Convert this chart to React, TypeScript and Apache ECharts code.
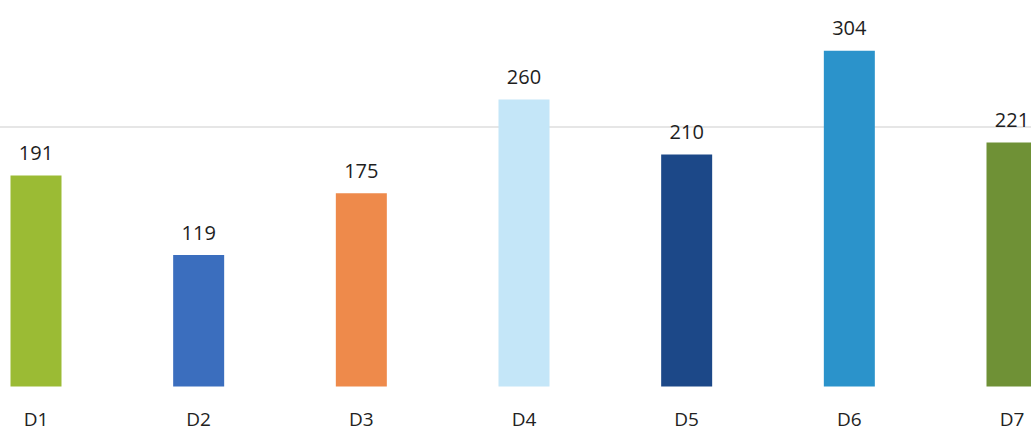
import React, { useEffect, useRef } from "react";
import * as echarts from "echarts";

const categories = ["D1", "D2", "D3", "D4", "D5", "D6", "D7"];
const values = [191, 119, 175, 260, 210, 304, 221];
const barColors = ["#9BBB34", "#3B6EBE", "#EE8A4B", "#C4E6F8", "#1C4888", "#2B93CB", "#6F9136"];
const refLineValue = 235;

export default function App() {
  const ref = useRef<HTMLDivElement>(null);
  useEffect(() => {
    if (!ref.current) return;
    const chart = echarts.init(ref.current, null, { renderer: "svg" });
    chart.setOption({
      animation: false,
      backgroundColor: "#ffffff",
      grid: { left: 36, right: 19, top: 0, bottom: 44.5, containLabel: false },
      xAxis: {
        type: "category",
        data: categories,
        boundaryGap: false,
        axisLine: { show: false },
        axisTick: { show: false },
        axisLabel: {
          margin: 23,
          fontSize: 19,
          color: "#222222",
          fontFamily: "Open Sans",
        },
      },
      yAxis: {
        type: "value",
        min: 0,
        max: 350,
        show: false,
        splitLine: { show: false },
      },
      series: [
        {
          type: "bar",
          barWidth: 51,
          data: values.map((v, i) => ({ value: v, itemStyle: { color: barColors[i] } })),
          label: {
            show: true,
            position: "top",
            distance: 13,
            fontSize: 20,
            color: "#1e1e1e",
            fontFamily: "Open Sans",
          },
          z: 2,
        },
      ],
    });
    const y = chart.convertToPixel({ yAxisIndex: 0 }, refLineValue) as number;
    const w = chart.getWidth();
    chart.setOption({
      graphic: [
        {
          type: "line",
          z: 0,
          silent: true,
          shape: { x1: 0, y1: y, x2: w, y2: y },
          style: { stroke: "#e6e6e6", lineWidth: 2 },
        },
      ],
    });
    return () => chart.dispose();
  }, []);
  return (
    <div
      ref={ref}
      style={{ position: "fixed", left: 0, top: 0, width: 1031, height: 431 }}
    />
  );
}
